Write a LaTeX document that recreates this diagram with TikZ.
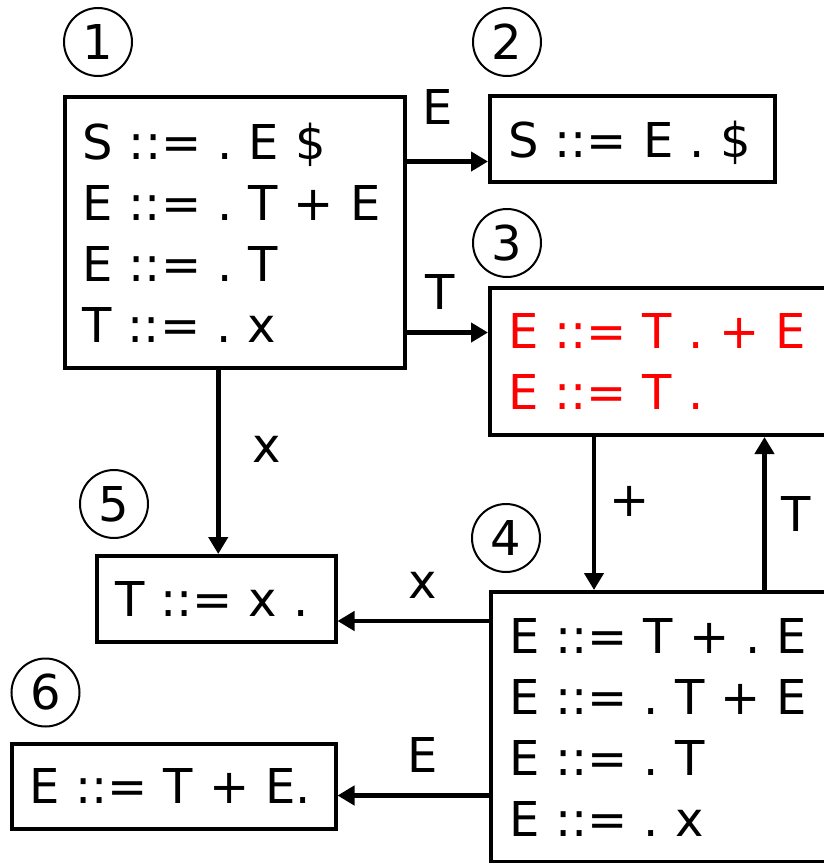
\documentclass[tikz,border=0pt]{standalone}
\usepackage{fontspec}
\setmainfont{DejaVu Sans}
\usetikzlibrary{arrows.meta}

\tikzset{
	itemset/.style={draw, line width=4pt, inner xsep=18pt, inner ysep=0pt, align=left, font=\fontsize{48}{61}\selectfont},
	statenum/.style={draw, circle, line width=2pt, minimum size=68pt, inner sep=0pt, font=\fontsize{48}{61}\selectfont},
	trans/.style={line width=4.5pt, -{Triangle[length=17pt, width=19pt]}},
	lbl/.style={inner sep=0pt, text depth=0pt, font=\fontsize{48}{61}\selectfont},
}

\begin{document}
\begin{tikzpicture}[x=1pt, y=1pt]
		\useasboundingbox (0,0) rectangle (824,-863);
		
		%item sets
		\node[itemset, minimum width=340.5pt, text width=304.5pt, minimum height=271pt] (s1) at (234.75,-232.5) {S~::=~.~E~\$\\E~::=~.~T~+~E\\E~::=~.~T\\T~::=~.~x};
		\node[itemset, text depth=0pt, minimum width=285pt, text width=249pt, minimum height=86pt] (s2) at (632.5,-139) {S~::=~E~.~\$};
		\node[itemset, minimum width=360pt, text width=324pt, minimum height=147pt, text=red] (s3) at (670,-361.5) {E~::=~T~.~+~E\\E~::=~T~.};
		\node[itemset, minimum width=359pt, text width=323pt, minimum height=270pt] (s4) at (670.5,-727) {E~::=~T~+~.~E\\E~::=~.~T~+~E\\E~::=~.~T\\E~::=~.~x};
		\node[itemset, minimum width=238.5pt, text width=202.5pt, minimum height=86pt] (s5) at (216.25,-599) {T~::=~x~.};
		\node[itemset, inner xsep=17pt, minimum width=323.5pt, text width=289.5pt, minimum height=85.5pt] (s6) at (173.75,-786.25) {E~::=~T~+~E.};
		
		%state numbers
		\node[statenum] (n1) at (98,-42) {1};
		\node[statenum] (n2) at (507,-42) {2};
		\node[statenum] (n3) at (507,-243) {3};
		\node[statenum] (n4) at (506,-538) {4};
		\node[statenum] (n5) at (114,-504) {5};
		\node[statenum] (n6) at (45.5,-692.5) {6};
		
		%attachment points of the transitions
		\coordinate (from1E) at ([yshift=-66.5pt]s1.north east);
		\coordinate (to3T) at ([yshift=-46.5pt]s3.north west);
		\coordinate (from3P) at ([xshift=106pt]s3.south west);
		\coordinate (to3T4) at ([xshift=276.5pt]s3.south west);
		\coordinate (from4x) at ([yshift=-31pt]s4.north west);
		\coordinate (from4E) at ([yshift=-205.5pt]s4.north west);
		
		%transitions
		\draw[trans] (from1E) -- (from1E -| s2.west) node[lbl, pos=0.38, above=34.5pt] {E};
		\draw[trans] (to3T -| s1.east) -- (to3T) node[lbl, pos=0.41, above=20.5pt] {T};
		\draw[trans] ([xshift=2pt]s5.north |- s1.south) -- ([xshift=2pt]s5.north) node[lbl, pos=0.43, right=31.5pt] {x};
		\draw[trans] (from3P) -- (from3P |- s4.north) node[lbl, pos=0.42, right=13pt] {+};
		\draw[trans] (to3T4 |- s4.north) -- (to3T4) node[lbl, pos=0.5, right=14.5pt] {T};
		\draw[trans] (from4x) -- (from4x -| s5.east) node[lbl, pos=0.44, above=20pt] {x};
		\draw[trans] (from4E) -- (from4E -| s6.east) node[lbl, pos=0.44, above=20.5pt] {E};
	\end{tikzpicture}
\end{document}
